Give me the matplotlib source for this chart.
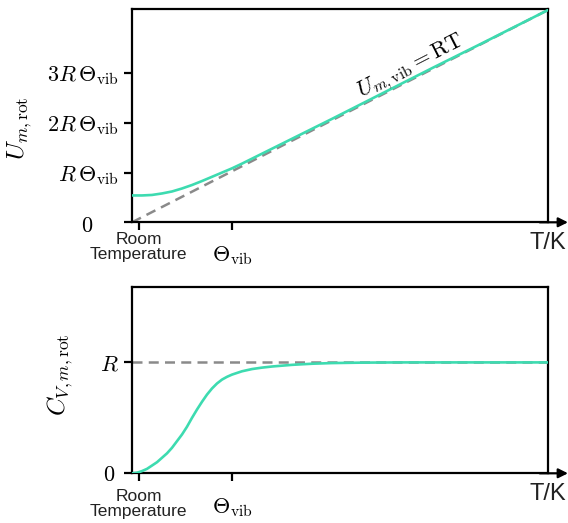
import matplotlib
matplotlib.use("Agg")
import matplotlib.pyplot as plt
import matplotlib.transforms as mtransforms

plt.rcParams['mathtext.fontset'] = 'cm'
plt.rcParams['font.family'] = ['Liberation Sans', 'DejaVu Sans']

# ---------------- data ----------------
# temperature in units of Theta_vib
top_T = [0.0, 0.1, 0.2, 0.3, 0.4, 0.5, 0.6, 0.7, 0.8, 0.9, 1.0, 1.1, 1.2, 1.3, 1.4,
         1.6, 1.8, 2.0, 2.5, 3.0, 3.5, 4.16]
# U_m in units of R*Theta_vib
top_U = [0.54, 0.54, 0.55, 0.58, 0.62, 0.68, 0.75, 0.83, 0.915, 1.00, 1.085, 1.18, 1.28,
         1.38, 1.48, 1.68, 1.88, 2.08, 2.59, 3.10, 3.60, 4.27]
line_T = [0.0, 4.16]
line_U = [0.0, 4.27]

bot_T = [0.0, 0.05, 0.1, 0.15, 0.2, 0.25, 0.3, 0.35, 0.4, 0.45, 0.5, 0.55, 0.6,
         0.65, 0.7, 0.75, 0.8, 0.85, 0.9, 0.95, 1.0, 1.1, 1.2, 1.3, 1.4, 1.6,
         1.8, 2.0, 2.3, 2.7, 4.16]
bot_C = [0.0, 0.005, 0.02, 0.04, 0.07, 0.10, 0.14, 0.18, 0.23, 0.29, 0.35, 0.42, 0.50,
         0.575, 0.645, 0.71, 0.765, 0.81, 0.845, 0.87, 0.89, 0.92, 0.94, 0.953, 0.963, 0.978,
         0.988, 0.994, 0.998, 1.0, 1.0]
limit_T = [0.0, 4.16]
limit_C = [1.0, 1.0]

top_yticks = [0, 1, 2, 3]
top_yticklabels = ['$0$', r'$R\,\Theta_{\mathrm{vib}}$', r'$2R\,\Theta_{\mathrm{vib}}$',
                   r'$3R\,\Theta_{\mathrm{vib}}$']
bot_yticks = [0, 1]
bot_yticklabels = ['$0$', '$R$']
xtick_pos = [0.065, 1.0]
xtick_labels = ['Room\nTemperature', r'$\Theta_{\mathrm{vib}}$']

GREEN = '#3ddbb0'
GREY = '#8a8a8a'

W, H = 568, 523
fig = plt.figure(figsize=(W / 100, H / 100), dpi=100)

def axes_px(left, right, top, bottom):
    return fig.add_axes([left / W, 1 - bottom / H, (right - left) / W, (bottom - top) / H])

ax1 = axes_px(132, 548, 9, 222.3)
ax2 = axes_px(132, 548, 287, 473.3)

def style_axes(ax, room_off, theta_off, tk_off):
    for s in ax.spines.values():
        s.set_linewidth(1.6)
        s.set_color('black')
    ax.tick_params(axis='both', direction='out', length=6, width=1.6, color='black')
    ax.set_xlim(0, 4.16)
    ax.set_xticks(xtick_pos)
    ax.set_xticklabels([])
    ax.annotate('', xy=(1.048, 0), xytext=(0.98, 0), xycoords='axes fraction',
                arrowprops=dict(arrowstyle='-|>', color='black', lw=1.6,
                                mutation_scale=14, shrinkA=0, shrinkB=0))
    tr = mtransforms.blended_transform_factory(ax.transData, ax.transAxes)
    ax.annotate(xtick_labels[0], xy=(xtick_pos[0], 0), xycoords=tr,
                xytext=(0, -room_off), textcoords='offset pixels',
                ha='center', va='top', fontsize=12.5, color='#222222', linespacing=1.0)
    ax.annotate(xtick_labels[1], xy=(xtick_pos[1], 0), xycoords=tr,
                xytext=(0, -theta_off), textcoords='offset pixels',
                ha='center', va='top', fontsize=16)
    ax.annotate('T/K', xy=(1.0, 0), xycoords='axes fraction',
                xytext=(0, -tk_off), textcoords='offset pixels',
                ha='center', va='top', fontsize=17, color='#222222')

style_axes(ax1, 10, 22, 10)
style_axes(ax2, 16, 23, 10)

# top panel
ax1.plot(line_T, line_U, ls=(0, (4, 2.5)), color=GREY, lw=1.8, zorder=2)
ax1.plot(top_T, top_U, color=GREEN, lw=1.9, zorder=3)
ax1.set_ylim(0, 4.29)
ax1.set_yticks(top_yticks)
ax1.set_yticklabels(top_yticklabels, fontsize=16)
zero1 = ax1.get_yticklabels()[0]
zero1.set_transform(zero1.get_transform() +
                    mtransforms.ScaledTranslation(-26 / 100, -2 / 100, fig.dpi_scale_trans))
ax1.text(2.85, 2.9, r'$U_{m,\mathrm{vib}} = \mathrm{RT}$', fontsize=16, rotation=27,
         rotation_mode='anchor', ha='center', va='bottom')
fig.text(20 / W, 1 - 128 / H, r'$U_{m,\mathrm{rot}}$', rotation=90, fontsize=18,
         ha='center', va='center')

# bottom panel
ax2.plot(limit_T, limit_C, ls=(0, (4, 2.5)), color=GREY, lw=1.8, zorder=2)
ax2.plot(bot_T, bot_C, color=GREEN, lw=1.9, zorder=3)
ax2.set_ylim(0, 1.68)
ax2.set_yticks(bot_yticks)
ax2.set_yticklabels(bot_yticklabels, fontsize=16)
zero2 = ax2.get_yticklabels()[0]
zero2.set_transform(zero2.get_transform() +
                    mtransforms.ScaledTranslation(-4 / 100, 0, fig.dpi_scale_trans))
fig.text(60 / W, 1 - 375 / H, r'$C_{V,m,\mathrm{rot}}$', rotation=90, fontsize=18,
         ha='center', va='center')

fig.savefig('out.png', dpi=100)
